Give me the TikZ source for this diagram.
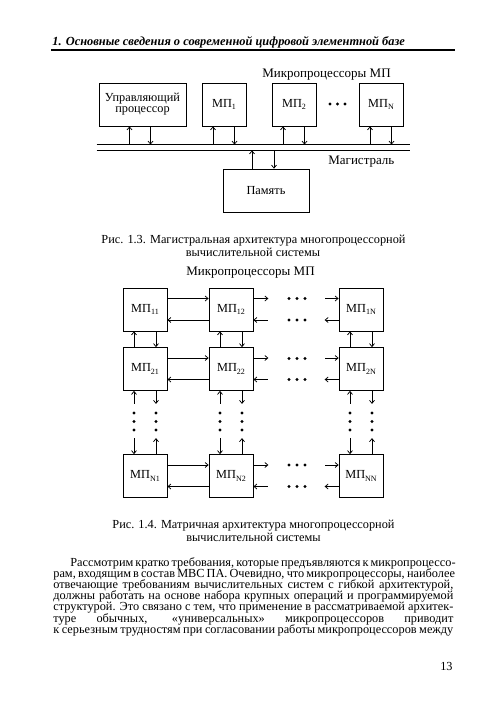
\documentclass[tikz,border=0pt]{standalone}
\usepackage{fontspec}
\setmainfont{Liberation Serif}
\usetikzlibrary{arrows.meta,positioning}
\newcommand{\mpidx}[1]{МП\raisebox{-2.5pt}{\fontsize{8}{8}\selectfont #1}}

\begin{document}
\begin{tikzpicture}[x=1pt,y=-1pt,line width=0.75pt,
	>={Straight Barb[length=3pt,width=5pt]},
	blok/.style={draw, minimum width=44pt, minimum height=43pt, inner sep=0pt,
		align=center, font=\fontsize{12.3}{13}\selectfont},
	lbl/.style={inner sep=0pt, font=\fontsize{13}{14}\selectfont},
	txt/.style={anchor=base west, inner sep=0pt, font=\fontsize{12.3}{11}\selectfont},
	capt/.style={anchor=base, inner sep=0pt, font=\fontsize{12.3}{11}\selectfont}]
\useasboundingbox[fill=white] (0,0) rectangle (500,707);

% page header
\node[txt, font=\fontsize{12.4}{11}\selectfont\bfseries\itshape] (head) at (52,45)
	{1. Основные сведения о современной цифровой элементной базе};
\draw[line width=1.3pt] (51,50) -- (455,50);

% bus architecture
\node[lbl, anchor=base west] (mptitle) at (262,77) {Микропроцессоры МП};
\node[blok, minimum width=87pt] (upr) at (142.5,104.5) {Управляющий\\[-2pt]процессор};
\node[blok] (mp1) at (224,104.5) {\mpidx{1}};
\node[blok] (mp2) at (294,104.5) {\mpidx{2}};
\node[blok] (mpn) at (381,104.5) {\mpidx{N}};
\foreach \x in {330,337.5,345}
	\fill (\x,104) circle (1.6pt);

\node[minimum width=313pt, minimum height=5pt, inner sep=0pt] (bus) at (253.5,147.5) {};
\draw (bus.north west) -- (bus.north east);
\draw (bus.south west) -- (bus.south east);
\node[lbl, anchor=base west] (magl) at (328,164) {Магистраль};

\draw [<-] ([xshift=-13pt]upr.south) -- ([xshift=-13pt]upr.south |- bus.north);
\draw [->] ([xshift=8pt]upr.south) -- ([xshift=8pt]upr.south |- bus.north);
\foreach \b in {mp1,mp2,mpn} {
	\draw [<-] ([xshift=-11pt]\b.south) -- ([xshift=-11pt]\b.south |- bus.north);
	\draw [->] ([xshift=10.5pt]\b.south) -- ([xshift=10.5pt]\b.south |- bus.north);
}

\node[blok, minimum width=86pt] (mem) at (266,190.5) {Память};
\draw [->] ([xshift=-14pt]mem.north) -- ([xshift=-14pt]mem.north |- bus.south);
\draw [<-] ([xshift=8pt]mem.north) -- ([xshift=8pt]mem.north |- bus.south);

\node[capt] (cap1a) at (253.5,243) {Рис. 1.3. Магистральная архитектура многопроцессорной};
\node[capt] (cap1b) at (253,256) {вычислительной системы};

% matrix architecture
\node[lbl, anchor=base west] (mtitle) at (186,275) {Микропроцессоры МП};

\node[blok] (m11) at (145,309.5) {\mpidx{11}};
\node[blok] (m12) at (231,309.5) {\mpidx{12}};
\node[blok] (m1n) at (361,309.5) {\mpidx{1N}};
\node[blok] (m21) at (145,369) {\mpidx{21}};
\node[blok] (m22) at (231,369) {\mpidx{22}};
\node[blok] (m2n) at (361,369) {\mpidx{2N}};
\node[blok] (mn1) at (145,476) {\mpidx{N1}};
\node[blok] (mn2) at (231,476) {\mpidx{N2}};
\node[blok] (mnn) at (361,476) {\mpidx{NN}};

% rows
\foreach \a/\b/\c in {m11/m12/m1n, m21/m22/m2n, mn1/mn2/mnn} {
	\draw [->] ([yshift=11pt]\a.east) -- ([yshift=11pt]\b.west);
	\draw [<-] ([yshift=-10.5pt]\a.east) -- ([yshift=-10.5pt]\b.west);
	\draw [->] ([yshift=11pt]\b.east) -- ++(15,0);
	\draw [<-] ([yshift=-10.5pt]\b.east) -- ++(15,0);
	\draw [<-] ([yshift=11pt]\c.west) -- ++(-14,0);
	\draw [->] ([yshift=-10.5pt]\c.west) -- ++(-14,0);
}
\foreach \y in {298.5,320,358.5,379.5,465,486.5}
	\foreach \x in {289,297,305}
		\fill (\x,\y) circle (1.6pt);

% columns
\foreach \a/\b/\c in {m11/m21/mn1, m12/m22/mn2, m1n/m2n/mnn} {
	\draw [<-] ([xshift=-11pt]\a.south) -- ([xshift=-11pt]\b.north);
	\draw [->] ([xshift=11pt]\a.south) -- ([xshift=11pt]\b.north);
	\draw [<-] ([xshift=-11pt]\b.south) -- ++(0,13);
	\draw [->] ([xshift=11pt]\b.south) -- ++(0,13);
	\draw [<-] ([xshift=-11pt]\c.north) -- ++(0,-16);
	\draw [->] ([xshift=11pt]\c.north) -- ++(0,-16);
}
\foreach \x in {134,156,220,242,350,372}
	\foreach \y in {413,421.5,430}
		\fill (\x,\y) circle (1.6pt);

\node[capt] (cap2a) at (253.5,528) {Рис. 1.4. Матричная архитектура многопроцессорной};
\node[capt] (cap2b) at (253.5,541) {вычислительной системы};

% body text
\node[txt] (par1) at (70,566) {\makebox[383pt][s]{Рассмотрим кратко требования, которые предъявляются к микропроцессо-}};
\node[txt] (par2) at (53,577.2) {\makebox[400pt][s]{рам, входящим в состав МВС ПА. Очевидно, что микропроцессоры, наиболее}};
\node[txt] (par3) at (53,588.4) {\makebox[400pt][s]{отвечающие требованиям вычислительных систем с гибкой архитектурой,}};
\node[txt] (par4) at (53,599.6) {\makebox[400pt][s]{должны работать на основе набора крупных операций и программируемой}};
\node[txt] (par5) at (53,610.8) {\makebox[400pt][s]{структурой. Это связано с тем, что применение в рассматриваемой архитек-}};
\node[txt] (par6) at (53,622) {\makebox[400pt][s]{туре обычных, «универсальных» микропроцессоров приводит}};
\node[txt] (par7) at (53,633.2) {\makebox[400pt][s]{к серьезным трудностям при согласовании работы микропроцессоров между}};

\node[txt, anchor=base east] (pnum) at (453,670) {13};
\end{tikzpicture}
\end{document}
